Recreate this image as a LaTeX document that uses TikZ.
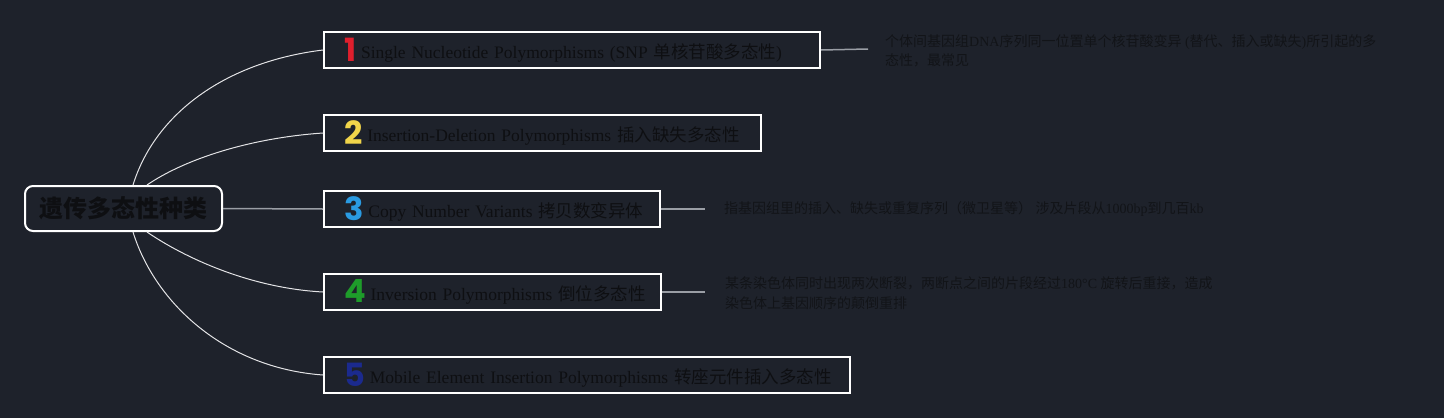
\documentclass[tikz,border=0pt]{standalone}
\usepackage{fontspec}
\setmainfont{Liberation Serif}
\newfontfamily\cjk{Noto Sans CJK SC}
\newfontfamily\badgefont{Poppins}

\definecolor{bgdark}{HTML}{1E222B}
\definecolor{boxtext}{HTML}{0E0F12}
\definecolor{notetext}{HTML}{121418}
\definecolor{linkgray}{HTML}{9A9EA5}
\definecolor{badgered}{HTML}{DF1F2D}
\definecolor{badgeyellow}{HTML}{F1D54A}
\definecolor{badgeblue}{HTML}{2A9BE2}
\definecolor{badgegreen}{HTML}{1E9C2A}
\definecolor{badgenavy}{HTML}{1B2A8E}

\newcommand{\numbadge}[2]{\raisebox{-2.5pt}{\badgefont\bfseries\fontsize{32}{32}\selectfont\color{#1}#2}\hspace{5pt}}

\begin{document}
\begin{tikzpicture}[x=1pt, y=-1pt,
    rootbox/.style={draw=white, line width=2pt, rounded corners=8pt, fill=bgdark,
        minimum width=197pt, minimum height=45pt, inner sep=0pt, text=boxtext,
        font=\cjk\bfseries\fontsize{24}{24}\selectfont},
    branchbox/.style={draw=white, line width=2pt, anchor=west, minimum height=36pt,
        inner xsep=20pt, inner ysep=0pt, text width=#1, align=left, text=boxtext,
        font=\fontsize{17.5}{20}\selectfont},
    note/.style={anchor=west, align=left, inner sep=0pt, text=notetext,
        font=\fontsize{14}{19.5}\selectfont},
    curvelink/.style={draw=white!88!bgdark, line width=1pt},
    notelink/.style={draw=linkgray, line width=1.5pt}]

    % Background and page size
    \fill[bgdark] (0,0) rectangle (1444,418);

    % Central topic
    \node[rootbox] (root) at (123.5,208.5) {遗传多态性种类};

    % The five branches
    \node[branchbox=456pt] (b1) at (323,50)
        {\mbox{\numbadge{badgered}{1}Single Nucleotide Polymorphisms (SNP {\cjk 单核苷酸多态性})}};
    \node[branchbox=397pt] (b2) at (323,133)
        {\mbox{\numbadge{badgeyellow}{2}Insertion-Deletion Polymorphisms {\cjk 插入缺失多态性}}};
    \node[branchbox=296pt] (b3) at (323,209)
        {\mbox{\numbadge{badgeblue}{3}Copy Number Variants {\cjk 拷贝数变异体}}};
    \node[branchbox=297pt] (b4) at (323,292)
        {\mbox{\numbadge{badgegreen}{4}Inversion Polymorphisms {\cjk 倒位多态性}}};
    \node[branchbox=486pt] (b5) at (323,375)
        {\mbox{\numbadge{badgenavy}{5}Mobile Element Insertion Polymorphisms {\cjk 转座元件插入多态性}}};

    % Curved links from the central topic
    \draw[curvelink] ([xshift=9.5pt]root.north) .. controls +(22,-71) and +(-98,12) .. (b1.west);
    \draw[curvelink] ([xshift=23.5pt]root.north) .. controls +(38,-26) and +(-73,5) .. (b2.west);
    \draw[curvelink] ([xshift=23.5pt]root.south) .. controls +(38,26) and +(-73,-4) .. (b4.west);
    \draw[curvelink] ([xshift=9.5pt]root.south) .. controls +(22,71) and +(-98,-7) .. (b5.west);
    \draw[notelink] (root.east) -- (b3.west);

    % Notes beside the branches
    \coordinate (n1) at (868,49);
    \coordinate (n3) at (705,209);
    \coordinate (n4) at (705,292);
    \foreach \b/\n in {b1/n1, b3/n3, b4/n4} {
        \draw[notelink] (\b.east) -- (\n);
    }

    \node[note] (t1) at (885,51)
        {{\cjk 个体间基因组}DNA{\cjk 序列同一位置单个核苷酸变异} ({\cjk 替代、插入或缺失}){\cjk 所引起的多}\\
         {\cjk 态性，最常见}};
    \node[note] (t3) at (724,209)
        {{\cjk 指基因组里的插入、缺失或重复序列（微卫星等）} {\cjk 涉及片段从}1000bp{\cjk 到几百}kb};
    \node[note] (t4) at (725,293)
        {{\cjk 某条染色体同时出现两次断裂，两断点之间的片段经过}180°C {\cjk 旋转后重接，造成}\\
         {\cjk 染色体上基因顺序的颠倒重排}};
\end{tikzpicture}
\end{document}
